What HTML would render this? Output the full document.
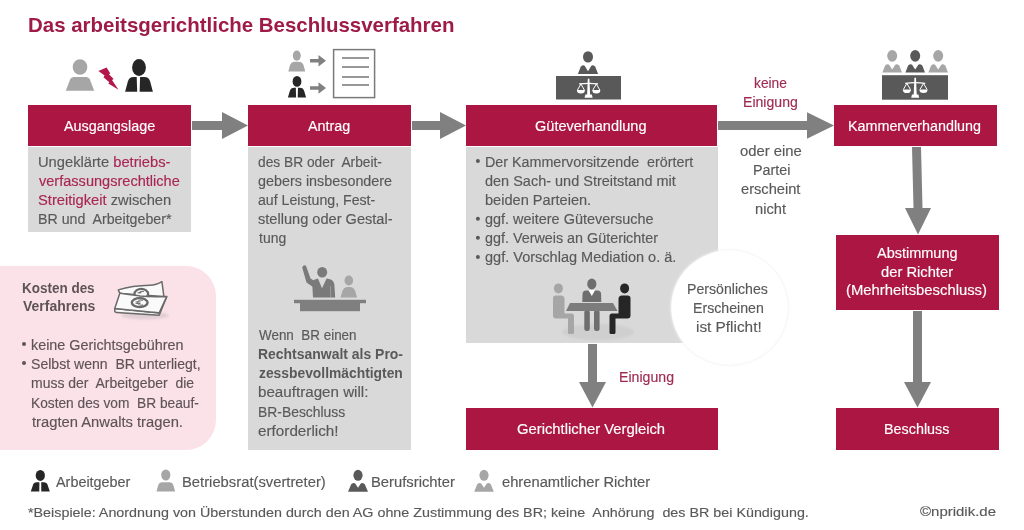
<!DOCTYPE html>
<html><head><meta charset="utf-8"><style>
html,body{margin:0;padding:0;background:#fff;}
body{width:1024px;height:530px;position:relative;overflow:hidden;font-family:"Liberation Sans",sans-serif;}
svg{position:absolute;left:0;top:0;}
.t{position:absolute;white-space:nowrap;transform-origin:0 0;-webkit-text-stroke:0.15px currentColor;}
.b{-webkit-text-stroke:0;}
</style></head><body>
<svg width="1024" height="530" viewBox="0 0 1024 530">
<rect x="28" y="105" width="163" height="41" fill="#ab1742"/>
<rect x="248" y="105" width="163" height="41" fill="#ab1742"/>
<rect x="466" y="105" width="251" height="41" fill="#ab1742"/>
<rect x="834" y="105" width="163" height="41" fill="#ab1742"/>
<rect x="836" y="235" width="163" height="75" fill="#ab1742"/>
<rect x="466" y="408" width="252" height="42" fill="#ab1742"/>
<rect x="836" y="408" width="163" height="42" fill="#ab1742"/>
<rect x="28" y="147" width="163" height="85" fill="#d9d9d9"/>
<rect x="248" y="147" width="163" height="303" fill="#d9d9d9"/>
<rect x="466" y="147" width="252" height="196" fill="#d9d9d9"/>
<path d="M-5 266 L186 266 A30 30 0 0 1 216 296 L216 420 A30 30 0 0 1 186 450 L-5 450 Z" fill="#fbe2e9"/>
<path d="M192.00 121.10 L222.00 121.10 L222.00 112.00 L248.00 125.50 L222.00 139.00 L222.00 129.90 L192.00 129.90 Z" fill="#808080"/>
<path d="M412.00 121.10 L440.00 121.10 L440.00 112.00 L466.00 125.50 L440.00 139.00 L440.00 129.90 L412.00 129.90 Z" fill="#808080"/>
<path d="M718.00 121.10 L807.00 121.10 L807.00 112.30 L834.00 125.50 L807.00 138.70 L807.00 129.90 L718.00 129.90 Z" fill="#808080"/>
<path d="M588.00 344.00 L597.00 344.00 L597.00 382.00 L606.00 382.00 L592.50 407.50 L579.00 382.00 L588.00 382.00 Z" fill="#808080"/>
<path d="M912.00 147.00 L921.00 147.00 L922.50 208.00 L931.00 208.00 L918.00 234.50 L905.00 208.00 L913.50 208.00 Z" fill="#808080"/>
<path d="M913.00 311.00 L922.00 311.00 L922.00 382.00 L931.00 382.00 L917.50 407.50 L904.00 382.00 L913.00 382.00 Z" fill="#808080"/>
<defs><filter id="cs" x="-20%" y="-20%" width="140%" height="140%"><feGaussianBlur stdDeviation="1.2"/></filter></defs>
<ellipse cx="729.5" cy="307.5" rx="59" ry="58" fill="#f2f2f2" filter="url(#cs)"/>
<ellipse cx="729.5" cy="307.5" rx="58.2" ry="57.2" fill="#fff"/>
<ellipse cx="80.00" cy="67.00" rx="7.35" ry="7.80" fill="#a6a6a6"/><path d="M65.80 90.70 L70.02 79.70 Q71.10 76.90 74.10 76.90 L85.90 76.90 Q88.90 76.90 89.98 79.70 L94.20 90.70 Z" fill="#a6a6a6"/>
<path d="M98.4 71 L106.6 67.4 L110.3 73.6 L108.9 74.2 L113.7 79 L112 80.1 L118.5 89.7 L108.3 83.5 L109.3 82.3 L103.5 77.3 L104.6 75.6 Z" fill="#b3174a"/>
<ellipse cx="139.00" cy="67.40" rx="6.90" ry="8.50" fill="#262626"/><path d="M125.10 91.80 L127.93 81.25 Q129.10 76.90 133.60 76.90 L144.40 76.90 Q148.90 76.90 150.07 81.25 L152.90 91.80 Z" fill="#262626"/><path d="M136.70 76.80 L140.10 76.80 L139.60 92.30 L137.20 92.30 Z" fill="#fff"/>
<ellipse cx="296.80" cy="55.60" rx="4.00" ry="5.10" fill="#a6a6a6"/><path d="M288.35 71.60 L289.71 66.17 Q290.80 61.80 295.30 61.80 L298.30 61.80 Q302.80 61.80 303.89 66.17 L305.25 71.60 Z" fill="#a6a6a6"/>
<ellipse cx="297.00" cy="81.40" rx="4.40" ry="5.40" fill="#262626"/><path d="M287.90 97.60 L289.74 91.17 Q290.70 87.80 294.20 87.80 L299.80 87.80 Q303.30 87.80 304.26 91.17 L306.10 97.60 Z" fill="#262626"/><path d="M295.80 87.30 L298.00 87.30 L297.70 98.10 L296.10 98.10 Z" fill="#fff"/>
<path d="M310 59.00 L318.5 59.00 L318.5 55.00 L326 60.80 L318.5 66.60 L318.5 62.60 L310 62.60 Z" fill="#808080"/>
<path d="M310 86.20 L318.5 86.20 L318.5 82.20 L326 88.00 L318.5 93.80 L318.5 89.80 L310 89.80 Z" fill="#808080"/>
<rect x="333.6" y="49.6" width="41" height="48" fill="#fff" stroke="#7a7a7a" stroke-width="1.5"/>
<rect x="342" y="57.20" width="27" height="1.6" fill="#7f7f7f"/>
<rect x="342" y="66.20" width="27" height="1.6" fill="#7f7f7f"/>
<rect x="342" y="76.20" width="27" height="1.6" fill="#7f7f7f"/>
<rect x="342" y="84.20" width="27" height="1.6" fill="#7f7f7f"/>
<ellipse cx="588.00" cy="56.90" rx="5.00" ry="5.70" fill="#595959"/><path d="M577.90 74.00 L580.80 66.60 Q583.40 64.40 584.80 66.00 L588.00 71.30 L591.20 66.00 Q592.60 64.40 595.20 66.60 L598.10 74.00 Z" fill="#595959"/>
<rect x="556" y="76" width="65" height="23.5" fill="#595959"/>
<g fill="#fff" stroke="none"><path d="M587.80 79.10 Q588.60 77.70 589.40 79.10 L590.20 96.80 L587.00 96.80 Z"/><path d="M579.10 83.30 Q588.60 82.00 598.10 83.30 L598.10 84.50 Q588.60 83.40 579.10 84.50 Z"/><path d="M576.85 90.00 A4.05 3.6 0 0 0 584.95 90.00 Z"/><path d="M577.45 90.00 L580.90 84.00 L584.35 90.00" fill="none" stroke="#fff" stroke-width="1" stroke-linejoin="round"/><path d="M592.25 90.00 A4.05 3.6 0 0 0 600.35 90.00 Z"/><path d="M592.85 90.00 L596.30 84.00 L599.75 90.00" fill="none" stroke="#fff" stroke-width="1" stroke-linejoin="round"/><path d="M585.40 94.60 L591.80 94.60 L592.60 97.80 L584.60 97.80 Z"/></g>
<ellipse cx="892.20" cy="55.80" rx="5.00" ry="5.90" fill="#a6a6a6"/><path d="M882.40 72.50 L885.10 65.40 Q887.70 63.20 889.10 64.80 L892.20 69.40 L895.30 64.80 Q896.70 63.20 899.30 65.40 L902.00 72.50 Z" fill="#a6a6a6"/>
<ellipse cx="915.20" cy="55.80" rx="5.00" ry="5.90" fill="#595959"/><path d="M905.40 72.50 L908.10 65.40 Q910.70 63.20 912.10 64.80 L915.20 69.40 L918.30 64.80 Q919.70 63.20 922.30 65.40 L925.00 72.50 Z" fill="#595959"/>
<ellipse cx="938.20" cy="55.80" rx="5.00" ry="5.90" fill="#a6a6a6"/><path d="M928.40 72.50 L931.10 65.40 Q933.70 63.20 935.10 64.80 L938.20 69.40 L941.30 64.80 Q942.70 63.20 945.30 65.40 L948.00 72.50 Z" fill="#a6a6a6"/>
<rect x="882" y="75.2" width="66" height="24.5" fill="#595959"/>
<g fill="#fff" stroke="none"><path d="M914.40 78.10 Q915.20 76.70 916.00 78.10 L916.80 96.80 L913.60 96.80 Z"/><path d="M905.20 82.70 Q915.20 81.40 925.20 82.70 L925.20 83.90 Q915.20 82.80 905.20 83.90 Z"/><path d="M902.80 89.40 A4.10 3.6 0 0 0 911.00 89.40 Z"/><path d="M903.40 89.40 L906.90 83.40 L910.40 89.40" fill="none" stroke="#fff" stroke-width="1" stroke-linejoin="round"/><path d="M919.40 89.40 A4.10 3.6 0 0 0 927.60 89.40 Z"/><path d="M920.00 89.40 L923.50 83.40 L927.00 89.40" fill="none" stroke="#fff" stroke-width="1" stroke-linejoin="round"/><path d="M912.00 94.60 L918.40 94.60 L919.20 97.80 L911.20 97.80 Z"/></g>
<path d="M302.2 267.5 Q303.5 264.2 306 265.8 L310.5 278.5 L315.5 281.5 L313 287 L306.5 282.5 Z" fill="#7a7a7a"/>
<ellipse cx="322.2" cy="272.3" rx="5" ry="5.3" fill="#7a7a7a"/>
<path d="M313 297.5 L312.2 284 Q312 280.2 315.5 279.2 L318 278.6 L322 288.2 L326.6 278.6 L330 279.2 Q334 280.2 334.4 285 L335.2 297.5 Z" fill="#7a7a7a"/>
<path d="M330.3 286 L330.8 297.5" stroke="#d9d9d9" stroke-width="0.6" opacity="0.6"/>
<ellipse cx="348.80" cy="280.50" rx="4.30" ry="5.00" fill="#a6a6a6"/><path d="M340.50 297.50 L342.33 291.32 Q343.60 287.00 348.10 287.00 L349.50 287.00 Q354.00 287.00 355.27 291.32 L357.10 297.50 Z" fill="#a6a6a6"/>
<rect x="294" y="299.8" width="72" height="3.4" fill="#7f7f7f"/>
<rect x="300" y="303" width="60" height="8.2" fill="#7f7f7f"/>
<ellipse cx="598" cy="332" rx="36" ry="8" fill="#cbcbcb" opacity="0.7" filter="url(#cs)"/>
<ellipse cx="558.4" cy="288.4" rx="4.5" ry="5" fill="#a6a6a6"/>
<path d="M553 298 Q553 295.5 556 295.5 L561 295.5 Q564.5 295.5 564.5 299 L564.5 313.5 L571.5 313.5 Q574 313.5 574 316 L574 332.5 Q574 334 572.5 334 L569.5 334 Q568 334 568 332.5 L568 318.5 L556 318.5 Q553 318.5 553 315.5 Z" fill="#a6a6a6"/>
<ellipse cx="591.80" cy="284.00" rx="4.60" ry="5.40" fill="#6e6e6e"/><path d="M582.30 302.00 L582.51 294.00 Q582.60 290.50 586.10 290.50 L597.50 290.50 Q601.00 290.50 601.09 294.00 L601.30 302.00 Z" fill="#6e6e6e"/><path d="M588.40 290.00 L595.20 290.00 L591.80 296.00 Z" fill="#fff"/>
<rect x="584.3" y="310" width="5.5" height="21" rx="2.5" fill="#6e6e6e"/><rect x="594" y="310" width="5.6" height="21" rx="2.5" fill="#6e6e6e"/>
<path d="M570 303 L613 303 L617.5 311 L566 311 Z" fill="#7c7c7c"/>
<ellipse cx="624.6" cy="288.4" rx="4.5" ry="5" fill="#262626"/>
<path d="M630.5 298 Q630.5 295.5 627.5 295.5 L622 295.5 Q618.5 295.5 618.5 299 L618.5 313.5 L612 313.5 Q609.5 313.5 609.5 316 L609.5 332.5 Q609.5 334 611 334 L614 334 Q615.5 334 615.5 332.5 L615.5 318.5 L627.5 318.5 Q630.5 318.5 630.5 315.5 Z" fill="#262626"/>
<ellipse cx="145" cy="315.5" rx="24" ry="4" fill="#cdbfc3" opacity="0.55" filter="url(#cs)"/>
<path d="M118.3 289.9 C126 287.5 138 285.5 149.7 285.3 C155 285.1 159 283.5 161.9 281.6 L163.9 296.6 L120 293.6 Z" fill="#fafafa" stroke="#6a6a6a" stroke-width="1.5" stroke-linejoin="round"/>
<ellipse cx="141.3" cy="293.8" rx="6.8" ry="5" fill="#fafafa" stroke="#6a6a6a" stroke-width="2.2"/>
<path d="M144 291.5 Q140 290.5 139 293.5 M137.5 292.8 L141.5 292.8" fill="none" stroke="#6a6a6a" stroke-width="1.1"/>
<path d="M114.8 308.5 L114.8 310.5 Q114.3 312 116.5 312.6 L159.2 315.2 L166.7 296.6 L159.2 312.9 Z" fill="#f4f4f4" stroke="#6a6a6a" stroke-width="1.5" stroke-linejoin="round"/>
<path d="M119.9 293.1 C126 294.3 133 295 140 296 C150 297.2 158 296.9 166.7 296.6 L159.2 312.9 C145 311.5 128 310 114.8 308.5 Z" fill="#fafafa" stroke="#6a6a6a" stroke-width="1.5" stroke-linejoin="round"/>
<ellipse cx="139.7" cy="302.6" rx="7.9" ry="4.5" fill="#fafafa" stroke="#6a6a6a" stroke-width="2.4"/>
<path d="M143 300.3 Q138.2 299.2 137.6 302.6 Q138.2 306 143 304.9 M135.6 301.9 L140.5 301.9 M135.6 303.4 L140.5 303.4" fill="none" stroke="#6a6a6a" stroke-width="1"/>
<ellipse cx="40.30" cy="475.40" rx="4.60" ry="5.50" fill="#262626"/><path d="M30.80 491.60 L32.88 485.16 Q33.80 482.30 36.80 482.30 L43.80 482.30 Q46.80 482.30 47.72 485.16 L49.80 491.60 Z" fill="#262626"/><path d="M39.40 481.80 L41.20 481.80 L41.30 492.10 L39.30 492.10 Z" fill="#fff"/>
<ellipse cx="165.80" cy="475.00" rx="4.60" ry="5.50" fill="#a6a6a6"/><path d="M156.50 491.60 L158.09 485.68 Q159.00 482.30 162.50 482.30 L169.10 482.30 Q172.60 482.30 173.51 485.68 L175.10 491.60 Z" fill="#a6a6a6"/>
<ellipse cx="358.00" cy="475.30" rx="4.60" ry="5.50" fill="#595959"/><path d="M348.00 491.70 L351.20 484.20 Q353.80 482.00 355.20 483.60 L358.00 487.80 L360.80 483.60 Q362.20 482.00 364.80 484.20 L368.00 491.70 Z" fill="#595959"/>
<ellipse cx="484.00" cy="475.30" rx="4.60" ry="5.50" fill="#a6a6a6"/><path d="M474.20 491.70 L477.20 484.20 Q479.80 482.00 481.20 483.60 L484.00 487.80 L486.80 483.60 Q488.20 482.00 490.80 484.20 L493.80 491.70 Z" fill="#a6a6a6"/>
<circle cx="477.90" cy="160.90" r="2" fill="#595959"/>
<circle cx="477.90" cy="218.80" r="2" fill="#595959"/>
<circle cx="477.90" cy="237.70" r="2" fill="#595959"/>
<circle cx="477.90" cy="257.00" r="2" fill="#595959"/>
<circle cx="24.00" cy="344.00" r="2" fill="#5e5357"/>
<circle cx="24.00" cy="362.90" r="2" fill="#5e5357"/>
</svg>
<div class="t b" style="left:28.23px;top:14.00px;font-size:21px;line-height:21px;font-weight:700;color:#9e1b47;transform:scaleX(0.9743)">Das arbeitsgerichtliche Beschlussverfahren</div>
<div class="t" style="left:64.10px;top:118.60px;font-size:14px;line-height:14px;font-weight:400;color:#ffffff;transform:scaleX(1.0273)">Ausgangslage</div>
<div class="t" style="left:308.10px;top:118.60px;font-size:14px;line-height:14px;font-weight:400;color:#ffffff;transform:scaleX(1.0244)">Antrag</div>
<div class="t" style="left:534.86px;top:118.60px;font-size:14px;line-height:14px;font-weight:400;color:#ffffff;transform:scaleX(1.0377)">Güteverhandlung</div>
<div class="t" style="left:848.38px;top:118.60px;font-size:14px;line-height:14px;font-weight:400;color:#ffffff;transform:scaleX(1.0234)">Kammerverhandlung</div>
<div class="t" style="left:38.05px;top:155.00px;font-size:14px;line-height:14px;font-weight:400;color:#595959;transform:scaleX(1.0504)">Ungeklärte <span style="color:#a92654">betriebs-</span></div>
<div class="t" style="left:39.10px;top:173.80px;font-size:14px;line-height:14px;font-weight:400;color:#595959;transform:scaleX(1.0393)"><span style="color:#a92654">verfassungsrechtliche</span></div>
<div class="t" style="left:38.05px;top:192.70px;font-size:14px;line-height:14px;font-weight:400;color:#595959;transform:scaleX(1.0504)"><span style="color:#a92654">Streitigkeit</span> zwischen</div>
<div class="t" style="left:38.09px;top:211.70px;font-size:14px;line-height:14px;font-weight:400;color:#595959;transform:scaleX(1.0146)">BR und&nbsp; Arbeitgeber*</div>
<div class="t" style="left:258.12px;top:154.60px;font-size:14px;line-height:14px;font-weight:400;color:#595959;transform:scaleX(0.9832)">des BR oder&nbsp; Arbeit-</div>
<div class="t" style="left:258.07px;top:173.60px;font-size:14px;line-height:14px;font-weight:400;color:#595959;transform:scaleX(1.0256)">gebers insbesondere</div>
<div class="t" style="left:258.09px;top:192.60px;font-size:14px;line-height:14px;font-weight:400;color:#595959;transform:scaleX(1.0113)">auf Leistung, Fest-</div>
<div class="t" style="left:258.06px;top:211.60px;font-size:14px;line-height:14px;font-weight:400;color:#595959;transform:scaleX(1.0414)">stellung oder Gestal-</div>
<div class="t" style="left:259.10px;top:230.60px;font-size:14px;line-height:14px;font-weight:400;color:#595959;transform:scaleX(0.9963)">tung</div>
<div class="t" style="left:259.10px;top:328.00px;font-size:14px;line-height:14px;font-weight:400;color:#595959;transform:scaleX(0.9594)">Wenn&nbsp; BR einen</div>
<div class="t b" style="left:258.10px;top:347.00px;font-size:14px;line-height:14px;font-weight:700;color:#595959;transform:scaleX(0.9965)">Rechtsanwalt als Pro-</div>
<div class="t b" style="left:259.10px;top:366.00px;font-size:14px;line-height:14px;font-weight:700;color:#595959;transform:scaleX(0.9883)">zessbevollmächtigten</div>
<div class="t" style="left:258.02px;top:385.00px;font-size:14px;line-height:14px;font-weight:400;color:#595959;transform:scaleX(1.0830)">beauftragen will:</div>
<div class="t" style="left:258.11px;top:404.50px;font-size:14px;line-height:14px;font-weight:400;color:#595959;transform:scaleX(0.9920)">BR-Beschluss</div>
<div class="t" style="left:258.01px;top:423.50px;font-size:14px;line-height:14px;font-weight:400;color:#595959;transform:scaleX(1.0903)">erforderlich!</div>
<div class="t" style="left:485.28px;top:154.60px;font-size:14px;line-height:14px;font-weight:400;color:#595959;transform:scaleX(1.0212)">Der Kammervorsitzende&nbsp; erörtert</div>
<div class="t" style="left:485.27px;top:173.60px;font-size:14px;line-height:14px;font-weight:400;color:#595959;transform:scaleX(1.0344)">den Sach- und Streitstand mit</div>
<div class="t" style="left:485.26px;top:192.60px;font-size:14px;line-height:14px;font-weight:400;color:#595959;transform:scaleX(1.0410)">beiden Parteien.</div>
<div class="t" style="left:485.27px;top:211.80px;font-size:14px;line-height:14px;font-weight:400;color:#595959;transform:scaleX(1.0315)">ggf. weitere Güteversuche</div>
<div class="t" style="left:485.28px;top:231.00px;font-size:14px;line-height:14px;font-weight:400;color:#595959;transform:scaleX(1.0244)">ggf. Verweis an Güterichter</div>
<div class="t" style="left:485.26px;top:250.40px;font-size:14px;line-height:14px;font-weight:400;color:#595959;transform:scaleX(1.0374)">ggf. Vorschlag Mediation o. ä.</div>
<div class="t" style="left:753.72px;top:75.50px;font-size:14px;line-height:14px;font-weight:400;color:#9e2a52;transform:scaleX(0.9844)">keine</div>
<div class="t" style="left:742.89px;top:94.50px;font-size:14px;line-height:14px;font-weight:400;color:#9e2a52;transform:scaleX(1.0057)">Einigung</div>
<div class="t" style="left:740.04px;top:143.80px;font-size:14px;line-height:14px;font-weight:400;color:#595959;transform:scaleX(1.0596)">oder eine</div>
<div class="t" style="left:752.58px;top:162.70px;font-size:14px;line-height:14px;font-weight:400;color:#595959;transform:scaleX(1.0229)">Partei</div>
<div class="t" style="left:741.15px;top:181.80px;font-size:14px;line-height:14px;font-weight:400;color:#595959;transform:scaleX(1.0464)">erscheint</div>
<div class="t" style="left:755.35px;top:201.70px;font-size:14px;line-height:14px;font-weight:400;color:#595959;transform:scaleX(1.0483)">nicht</div>
<div class="t" style="left:619.49px;top:369.80px;font-size:14px;line-height:14px;font-weight:400;color:#9e2a52;transform:scaleX(1.0094)">Einigung</div>
<div class="t" style="left:687.49px;top:281.70px;font-size:14px;line-height:14px;font-weight:400;color:#595959;transform:scaleX(1.0089)">Persönliches</div>
<div class="t" style="left:693.49px;top:300.70px;font-size:14px;line-height:14px;font-weight:400;color:#595959;transform:scaleX(1.0118)">Erscheinen</div>
<div class="t" style="left:696.00px;top:319.60px;font-size:14px;line-height:14px;font-weight:400;color:#595959;transform:scaleX(1.0966)">ist Pflicht!</div>
<div class="t" style="left:877.00px;top:245.70px;font-size:14px;line-height:14px;font-weight:400;color:#ffffff;transform:scaleX(1.0351)">Abstimmung</div>
<div class="t" style="left:880.95px;top:264.50px;font-size:14px;line-height:14px;font-weight:400;color:#ffffff;transform:scaleX(1.0522)">der Richter</div>
<div class="t" style="left:846.04px;top:283.10px;font-size:14px;line-height:14px;font-weight:400;color:#ffffff;transform:scaleX(1.0595)">(Mehrheitsbeschluss)</div>
<div class="t" style="left:884.27px;top:422.00px;font-size:14px;line-height:14px;font-weight:400;color:#ffffff;transform:scaleX(1.0258)">Beschluss</div>
<div class="t" style="left:517.04px;top:421.70px;font-size:14px;line-height:14px;font-weight:400;color:#ffffff;transform:scaleX(1.0572)">Gerichtlicher Vergleich</div>
<div class="t b" style="left:22.34px;top:280.50px;font-size:14px;line-height:14px;font-weight:700;color:#5e5357;transform:scaleX(0.9622)">Kosten des</div>
<div class="t b" style="left:23.30px;top:299.20px;font-size:14px;line-height:14px;font-weight:700;color:#5e5357;transform:scaleX(0.9986)">Verfahrens</div>
<div class="t" style="left:31.27px;top:337.60px;font-size:14px;line-height:14px;font-weight:400;color:#5e5357;transform:scaleX(1.0252)">keine Gerichtsgebühren</div>
<div class="t" style="left:31.30px;top:356.60px;font-size:14px;line-height:14px;font-weight:400;color:#5e5357;transform:scaleX(1.0042)">Selbst wenn&nbsp; BR unterliegt,</div>
<div class="t" style="left:31.30px;top:376.00px;font-size:14px;line-height:14px;font-weight:400;color:#5e5357;transform:scaleX(0.9981)">muss der&nbsp; Arbeitgeber&nbsp; die</div>
<div class="t" style="left:31.32px;top:395.60px;font-size:14px;line-height:14px;font-weight:400;color:#5e5357;transform:scaleX(0.9806)">Kosten des vom&nbsp; BR beauf-</div>
<div class="t" style="left:32.30px;top:414.60px;font-size:14px;line-height:14px;font-weight:400;color:#5e5357;transform:scaleX(1.0542)">tragten Anwalts tragen.</div>
<div class="t" style="left:55.60px;top:474.90px;font-size:14px;line-height:14px;font-weight:400;color:#595959;transform:scaleX(1.0278)">Arbeitgeber</div>
<div class="t" style="left:182.04px;top:474.90px;font-size:14px;line-height:14px;font-weight:400;color:#595959;transform:scaleX(1.0560)">Betriebsrat(svertreter)</div>
<div class="t" style="left:371.44px;top:474.90px;font-size:14px;line-height:14px;font-weight:400;color:#595959;transform:scaleX(1.0564)">Berufsrichter</div>
<div class="t" style="left:502.35px;top:474.90px;font-size:14px;line-height:14px;font-weight:400;color:#595959;transform:scaleX(1.0514)">ehrenamtlicher Richter</div>
<div class="t" style="left:27.64px;top:505.50px;font-size:13.5px;line-height:13.5px;font-weight:400;color:#595959;transform:scaleX(1.0606)">*Beispiele: Anordnung von Überstunden durch den AG ohne Zustimmung des BR; keine&nbsp; Anhörung&nbsp; des BR bei Kündigung.</div>
<div class="t" style="left:920.00px;top:505.30px;font-size:13.5px;line-height:13.5px;font-weight:400;color:#595959;transform:scaleX(1.1103)">©npridik.de</div>
</body></html>
